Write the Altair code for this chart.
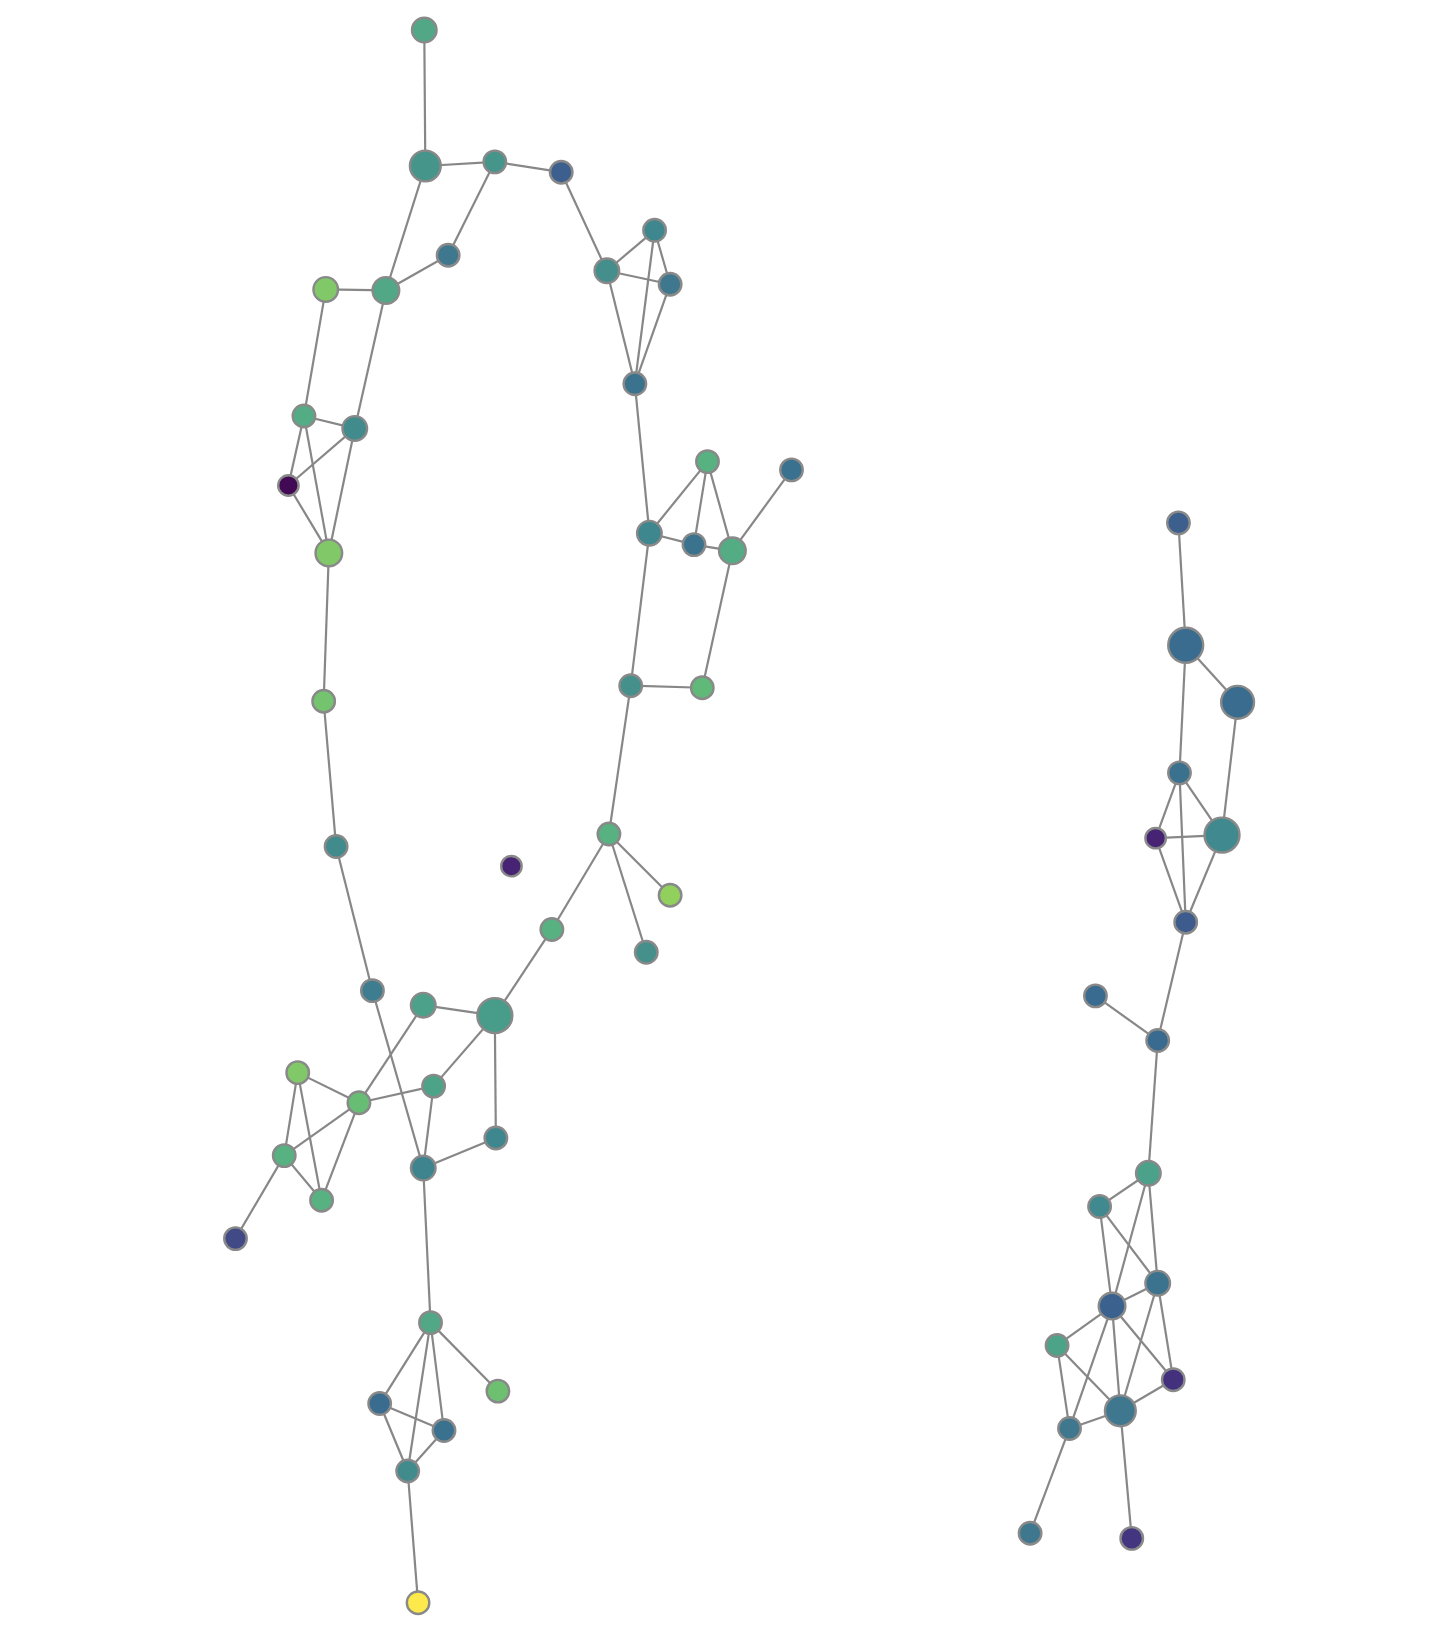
import pandas as pd
import altair as alt

# node layout (picture units), colour value and radius
node_id = ["A", "B", "C", "D", "E", "F", "G", "H", "I", "J", "K", "L", "M", "N",
           "O", "P", "Q", "R", "S", "T", "U", "V", "W", "X", "Y", "Z", "AA", "AB",
           "AC", "AD", "AE", "AF", "AG", "AH", "AI", "AJ", "AK", "AL", "AM", "AN",
           "AO", "AP", "AQ", "AR", "AS", "AT",
           "BA", "BB", "BC", "BD", "BE", "BF", "BG", "BH", "BI", "BJ", "BK", "BL",
           "BM", "BN", "BO", "BP", "BQ", "BR", "BS"]
node_x = [409, 410, 477, 541, 432, 314, 372, 293, 342, 278, 317, 312, 324, 493,
          359, 408, 477, 532, 587, 646, 623, 287, 346, 418, 274, 310, 227, 408,
          478, 415, 480, 366, 428, 393, 403, 585, 631, 646, 612, 682,
          763, 626, 669, 706, 608, 677,
          1136, 1143, 1193, 1137, 1114, 1178, 1143, 1056, 1116, 1107, 1060, 1116,
          1072, 1019, 1131, 1080, 1031, 993, 1091]
node_y = [29, 160, 156, 166, 246, 279, 280, 401, 413, 468, 533, 676, 816, 835,
          955, 969, 979, 896, 804, 863, 918, 1034, 1063, 1047, 1114, 1157, 1194, 1126,
          1097, 1275, 1341, 1353, 1379, 1418, 1545, 261, 222, 274, 370, 445,
          453, 514, 525, 531, 661, 663,
          504, 622, 677, 745, 808, 805, 889, 960, 1003, 1131, 1163, 1237,
          1259, 1297, 1330, 1360, 1377, 1478, 1483]
node_value = [0.60, 0.52, 0.52, 0.30, 0.40, 0.78, 0.60, 0.62, 0.48, 0.00, 0.78, 0.74, 0.48, 0.08,
              0.42, 0.57, 0.55, 0.64, 0.64, 0.82, 0.50, 0.78, 0.70, 0.58, 0.64, 0.64, 0.20, 0.45,
              0.46, 0.60, 0.72, 0.35, 0.37, 0.48, 1.00, 0.49, 0.46, 0.40, 0.38, 0.64,
              0.37, 0.46, 0.38, 0.62, 0.50, 0.68,
              0.30, 0.35, 0.35, 0.37, 0.08, 0.47, 0.28, 0.34, 0.34, 0.57, 0.47, 0.38,
              0.31, 0.58, 0.12, 0.40, 0.40, 0.40, 0.13]
node_r = [13, 16, 12, 12, 12, 13, 14, 12, 13, 11, 14, 12, 12, 11,
          12, 13, 18, 12, 12, 12, 12, 12, 12, 12, 12, 12, 12, 13,
          12, 12, 12, 12, 12, 12, 12, 13, 12, 12, 12, 12,
          12, 13, 12, 14, 12, 12,
          12, 18, 17, 12, 11, 18, 12, 12, 12, 13, 12, 13,
          14, 12, 12, 16, 12, 12, 12]

edges = [("A", "B"), ("B", "C"), ("C", "D"), ("B", "G"), ("C", "E"), ("E", "G"),
         ("F", "G"), ("F", "H"), ("G", "I"), ("H", "I"), ("H", "J"), ("H", "K"),
         ("I", "J"), ("I", "K"), ("J", "K"), ("K", "L"), ("L", "M"), ("M", "O"),
         ("O", "AB"), ("P", "Q"), ("P", "W"), ("Q", "X"), ("Q", "AC"), ("Q", "R"),
         ("R", "S"), ("S", "T"), ("S", "U"), ("S", "AS"), ("V", "W"), ("V", "Y"),
         ("V", "Z"), ("W", "X"), ("W", "Y"), ("W", "Z"), ("Y", "AA"), ("Y", "Z"),
         ("X", "AB"), ("AB", "AC"), ("AB", "AD"), ("AD", "AE"), ("AD", "AF"),
         ("AD", "AG"), ("AD", "AH"), ("AF", "AG"), ("AF", "AH"), ("AG", "AH"),
         ("AH", "AI"),
         ("D", "AJ"), ("AJ", "AK"), ("AJ", "AL"), ("AJ", "AM"), ("AK", "AL"),
         ("AK", "AM"), ("AL", "AM"), ("AM", "AP"), ("AP", "AN"), ("AP", "AQ"),
         ("AN", "AQ"), ("AN", "AR"), ("AQ", "AR"), ("AR", "AO"), ("AR", "AT"),
         ("AS", "AT"), ("AP", "AS"),
         ("BA", "BB"), ("BB", "BC"), ("BB", "BD"), ("BC", "BF"), ("BD", "BE"),
         ("BD", "BF"), ("BD", "BG"), ("BE", "BF"), ("BE", "BG"), ("BF", "BG"),
         ("BG", "BI"), ("BH", "BI"), ("BI", "BJ"), ("BJ", "BK"), ("BJ", "BM"),
         ("BJ", "BL"), ("BK", "BM"), ("BK", "BL"), ("BM", "BL"), ("BM", "BN"),
         ("BM", "BO"), ("BM", "BP"), ("BM", "BQ"), ("BL", "BP"), ("BL", "BO"),
         ("BN", "BQ"), ("BN", "BP"), ("BP", "BO"), ("BP", "BQ"), ("BQ", "BR"),
         ("BP", "BS")]

# muted viridis-like ramp as seen in the picture
color_stops = [0.0, 0.1, 0.2, 0.3, 0.4, 0.5, 0.6, 0.7, 0.8, 0.9, 1.0]
color_range = ["#420a55", "#462a7a", "#414a86", "#3d5f8e", "#3f788e", "#46908b",
               "#52a886", "#68bd74", "#88cc64", "#c0dc40", "#fde94b"]

W, H = 1444, 1626
s = W / 1392.0  # picture units -> page pixels

nodes = pd.DataFrame({"id": node_id, "x": node_x, "y": node_y,
                      "value": node_value, "r": node_r})
# vega circle: size = (diameter)^2 ; keep the stroke inside the drawn radius
nodes["size"] = [(2 * (r * s - 1.2)) ** 2 for r in nodes["r"]]

pos = nodes.set_index("id")
links = pd.DataFrame([
    {"x": pos.loc[a, "x"], "y": pos.loc[a, "y"],
     "x2": pos.loc[b, "x"], "y2": pos.loc[b, "y"]}
    for a, b in edges
])

xs = alt.Scale(domain=[8 / s, (W - 8) / s], range=[0, W - 16])
ys = alt.Scale(domain=[8 / s, (H - 8) / s], range=[0, H - 16])

lines = alt.Chart(links).mark_rule(color="#878787", strokeWidth=2.2).encode(
    x=alt.X("x:Q", scale=xs, axis=None),
    y=alt.Y("y:Q", scale=ys, axis=None),
    x2="x2:Q",
    y2="y2:Q",
)

dots = alt.Chart(nodes).mark_circle(
    opacity=1, stroke="#898989", strokeWidth=2.4
).encode(
    x=alt.X("x:Q", scale=xs, axis=None),
    y=alt.Y("y:Q", scale=ys, axis=None),
    size=alt.Size("size:Q", scale=None, legend=None),
    color=alt.Color("value:Q", scale=alt.Scale(domain=color_stops, range=color_range),
                    legend=None),
)

chart = (lines + dots).properties(
    width=W - 16, height=H - 16, padding=0,
    autosize=alt.AutoSizeParams(type="none"),
).configure_view(stroke=None)

chart.save("out.html", embed_options={"renderer": "svg", "actions": False})
